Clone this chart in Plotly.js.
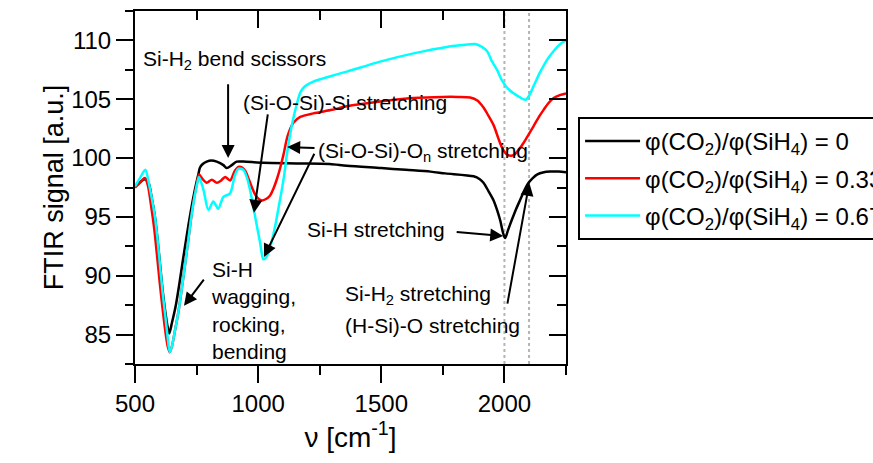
<!DOCTYPE html>
<html><head><meta charset="utf-8">
<script src="https://cdn.plot.ly/plotly-3.0.1.min.js"></script>
<style>html,body{margin:0;padding:0;background:#fff;}#chart{width:873px;height:463px;}</style>
</head><body><div id="chart"></div>
<script>
// ---- data ----
const seriesNames = [
  'φ(CO<sub>2</sub>)/φ(SiH<sub>4</sub>) = 0',
  'φ(CO<sub>2</sub>)/φ(SiH<sub>4</sub>) = 0.33',
  'φ(CO<sub>2</sub>)/φ(SiH<sub>4</sub>) = 0.67'
];
const seriesColors = ['#000000', '#ff0000', '#00ffff'];

const wnRatio0 = [500,520,540,555,568,581,592,602,612,622,632,639,650,665,680,695,710,725,740,757,764,775,791,810,832,859,872,893,913,940,1020,1157,1290,1360,1500,1600,1700,1760,1875,1900,1915,1935,1956,1970,1983,1995,2003,2015,2031,2048,2065,2082,2098,2115,2132,2160,2186,2220,2250];
const sigRatio0 = [97.6,97.95,98.2,97.9,96.6,95.0,93.0,90.9,88.8,87.1,85.7,85.1,86.0,87.4,89.3,91.4,93.4,95.3,97.0,98.6,99.2,99.5,99.7,99.8,99.7,99.4,99.15,99.4,99.7,99.7,99.6,99.55,99.5,99.35,99.15,99.0,98.85,98.7,98.45,98.2,97.9,97.2,96.4,95.6,94.7,93.6,93.2,93.9,94.8,95.7,96.5,97.3,97.9,98.3,98.6,98.8,98.85,98.85,98.8];

const wnRatio033 = [500,520,540,552,565,578,590,600,612,625,634,641,650,662,676,690,703,715,728,740,752,760,775,791,812,832,850,866,886,905,920,935,948,962,975,988,1001,1015,1030,1048,1062,1076,1090,1103,1120,1143,1171,1224,1300,1360,1495,1631,1750,1810,1861,1890,1915,1935,1956,1975,1990,2010,2025,2037,2058,2078,2098,2118,2140,2159,2180,2200,2225,2250];
const sigRatio033 = [97.5,97.9,98.3,97.7,96.0,94.0,91.6,89.5,87.2,85.0,83.9,83.5,84.0,85.3,86.9,88.9,90.9,92.8,94.9,96.6,97.9,98.6,98.2,97.9,98.15,97.9,98.1,98.4,98.1,98.9,99.25,99.2,98.9,98.2,97.5,96.9,96.55,96.4,96.5,96.8,97.4,98.2,99.2,100.3,101.9,103.0,103.5,103.8,104.1,104.4,104.8,105.1,105.2,105.2,105.15,104.9,104.3,103.6,102.8,101.7,100.9,100.3,100.2,100.25,100.7,101.3,102.0,102.7,103.5,104.1,104.7,105.1,105.35,105.5];

const wnRatio067 = [500,520,542,555,568,581,592,602,612,622,632,641,650,662,676,690,703,715,728,740,752,760,778,798,818,838,859,886,905,920,940,955,967,988,1008,1021,1030,1041,1055,1069,1083,1096,1106,1116,1135,1157,1172,1190,1224,1300,1360,1495,1631,1766,1850,1880,1905,1929,1950,1970,1990,2010,2037,2060,2085,2100,2118,2145,2173,2200,2227,2250];
const sigRatio067 = [97.6,98.3,99.0,98.0,96.6,95.0,93.0,90.8,88.6,86.8,84.9,83.5,84.0,85.3,86.9,88.9,90.9,92.8,94.9,96.5,97.8,98.4,97.3,95.6,96.3,95.7,96.7,97.0,98.5,99.1,99.0,98.3,97.3,95.0,92.8,91.4,91.5,91.9,92.9,94.2,95.8,97.3,98.6,100.2,102.6,104.6,105.6,106.1,106.5,107.0,107.35,108.2,108.9,109.45,109.65,109.7,109.5,109.1,108.2,107.5,106.6,106.0,105.5,105.2,104.95,105.3,106.1,107.3,108.35,109.1,109.7,110.0];

const xRange = [500, 2250];
const yRange = [82.5, 112.5];
const markerLines = [2000, 2100];

// ---- annotation texts ----
const labelTexts = {
  scissors: 'Si-H<sub>2</sub> bend scissors',
  siSi: '(Si-O-Si)-Si stretching',
  siOn: '(Si-O-Si)-O<sub>n</sub> stretching',
  siH: 'Si-H stretching',
  siH2: 'Si-H<sub>2</sub> stretching',
  hSiO: '(H-Si)-O stretching',
  wag: 'Si-H<br>wagging,<br>rocking,<br>bending'
};

const FONT = 'Liberation Sans, Arial, sans-serif';

const xs = [wnRatio0, wnRatio033, wnRatio067];
const ys = [sigRatio0, sigRatio033, sigRatio067];
const traces = xs.map((x, i) => ({
  x: x, y: ys[i], type: 'scatter', mode: 'lines', name: seriesNames[i],
  legendgroup: 'g' + i,
  line: {color: seriesColors[i], width: 2.5, shape: 'spline', smoothing: 0.8}
}));
// helper trace to anchor the mirrored top/right axes
traces.push({x: [null], y: [null], xaxis: 'x2', yaxis: 'y2', showlegend: false, hoverinfo: 'skip', type: 'scatter', mode: 'lines'});

function textAnn(text, x, y, xanchor) {
  return {text: text, x: x, y: y, xref: 'x', yref: 'y', showarrow: false,
    xanchor: xanchor || 'center', yanchor: 'middle', align: 'left',
    font: {family: FONT, size: 21, color: '#000'}};
}
function arrowAnn(tx, ty, hx, hy) {
  return {text: '', x: hx, y: hy, ax: tx, ay: ty, xref: 'x', yref: 'y', axref: 'x', ayref: 'y',
    showarrow: true, arrowhead: 2, arrowsize: 1.3, arrowwidth: 2, arrowcolor: '#000', standoff: 0, startstandoff: 0};
}

const annotations = [
  textAnn(labelTexts.scissors, 906, 108.3),
  arrowAnn(878, 106.4, 878, 100.0),
  textAnn(labelTexts.siSi, 1353, 104.7),
  arrowAnn(1040, 103.85, 983, 95.35),
  textAnn(labelTexts.siOn, 1668, 100.55),
  arrowAnn(1235, 100.86, 1118, 100.94),
  arrowAnn(1231, 100.5, 1024, 91.6),
  textAnn(labelTexts.siH, 1479, 93.9),
  arrowAnn(1800, 93.72, 1995, 93.38),
  textAnn(labelTexts.siH2, 1345, 88.4, 'left'),
  textAnn(labelTexts.hSiO, 1345, 85.73, 'left'),
  arrowAnn(2011, 87.5, 2101, 97.9),
  textAnn(labelTexts.wag, 801, 87.05, 'left'),
  arrowAnn(784, 89.8, 699, 87.45)
];

const shapes = markerLines.map(v => ({
  type: 'line', xref: 'x', yref: 'paper', x0: v, x1: v, y0: 0, y1: 1, layer: 'below',
  line: {color: '#b4b4b4', width: 2, dash: 'dot'}
}));

const axisCommon = {
  showline: true, linecolor: '#000', linewidth: 2, showgrid: false, zeroline: false,
  tickcolor: '#000', tickwidth: 2, ticklen: 17,
  tickfont: {family: FONT, size: 24, color: '#000'}
};

const layout = {
  width: 873, height: 463,
  margin: {l: 135, r: 307, t: 11, b: 99, autoexpand: false},
  paper_bgcolor: '#fff', plot_bgcolor: '#fff',
  font: {family: FONT, color: '#000'},
  showlegend: true,
  legend: {
    x: 1.028, y: 0.70, xanchor: 'left', yanchor: 'top', xref: 'paper', yref: 'paper',
    bgcolor: '#fff', bordercolor: '#000', borderwidth: 2,
    font: {family: FONT, size: 24, color: '#000'},
    itemwidth: 55, traceorder: 'grouped', tracegroupgap: 3
  },
  xaxis: Object.assign({}, axisCommon, {
    range: xRange, tick0: 500, dtick: 500, ticks: 'outside',
    minor: {dtick: 250, ticks: 'outside', ticklen: 9, tickwidth: 2, tickcolor: '#000'},
    title: {text: 'ν [cm<sup>-1</sup>]', standoff: 4, font: {family: FONT, size: 28, color: '#000'}}
  }),
  yaxis: Object.assign({}, axisCommon, {
    range: yRange, tick0: 0, dtick: 5, ticks: 'outside',
    minor: {dtick: 2.5, ticks: 'outside', ticklen: 8, tickwidth: 2, tickcolor: '#000'},
    title: {text: 'FTIR signal [a.u.]', font: {family: FONT, size: 27, color: '#000'}}
  }),
  xaxis2: Object.assign({}, axisCommon, {
    overlaying: 'x', side: 'top', anchor: 'y2', range: xRange, tick0: 500, dtick: 500,
    ticks: 'inside', showticklabels: false,
    minor: {dtick: 250, ticks: 'inside', ticklen: 9, tickwidth: 2, tickcolor: '#000'}
  }),
  yaxis2: Object.assign({}, axisCommon, {
    overlaying: 'y', side: 'right', anchor: 'x2', range: yRange, tick0: 0, dtick: 5,
    ticks: 'inside', showticklabels: false,
    minor: {dtick: 2.5, ticks: 'inside', ticklen: 9, tickwidth: 2, tickcolor: '#000'}
  }),
  annotations: annotations,
  shapes: shapes
};

Plotly.newPlot('chart', traces, layout, {displayModeBar: false, staticPlot: true});
</script>
</body></html>
